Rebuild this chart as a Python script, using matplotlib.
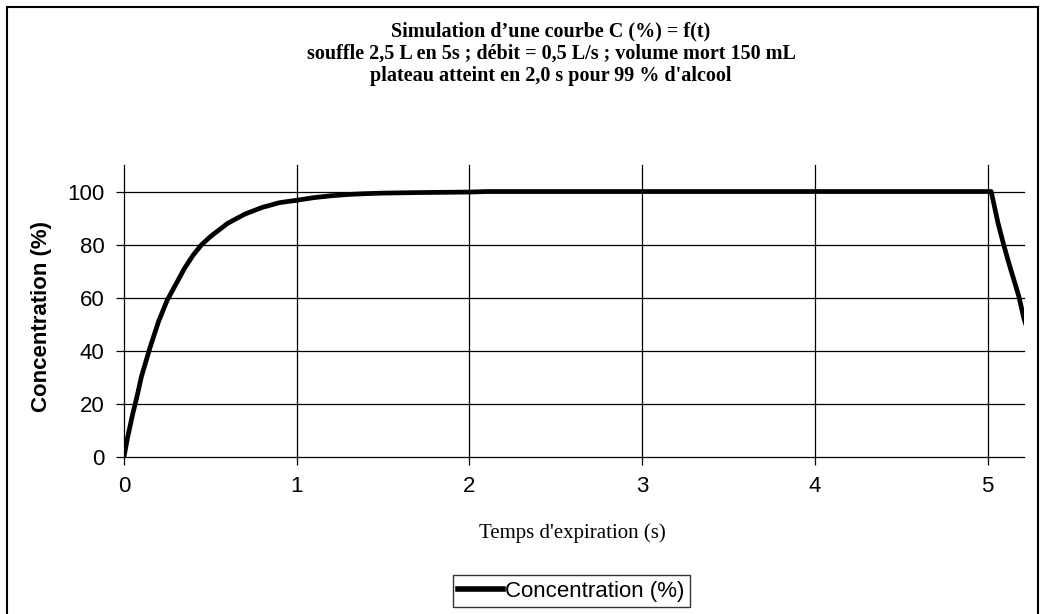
import matplotlib
matplotlib.use("Agg")
import matplotlib.pyplot as plt
from matplotlib.patches import Rectangle

# ---- data ----
t_s = [0.0, 0.02, 0.05, 0.08, 0.1, 0.15, 0.2, 0.25, 0.3, 0.35, 0.4, 0.45, 0.5,
       0.6, 0.7, 0.8, 0.9, 1.0, 1.1, 1.2, 1.3, 1.4, 1.5, 1.7, 2.0, 2.1, 2.5,
       3.0, 4.0, 5.0, 5.02, 5.04, 5.06, 5.09, 5.12, 5.15, 5.18, 5.21, 5.24]
conc_pct = [0.0, 7, 16, 24, 30, 41, 51, 59, 65, 71, 76, 80, 83,
            88, 91.5, 94, 95.8, 96.7, 97.7, 98.4, 98.9, 99.2, 99.4, 99.6, 99.8, 100, 100,
            100, 100, 100, 100, 94, 88, 80.5, 73.5, 67, 60.5, 52, 46]
x_ticks = [0, 1, 2, 3, 4, 5]
y_ticks = [0, 20, 40, 60, 80, 100]
series_label = "Concentration (%)"
title_lines = ["Simulation d\u2019une courbe C (%) = f(t)",
               "souffle 2,5 L en 5s ; d\u00e9bit = 0,5 L/s ; volume mort 150 mL",
               "plateau atteint en 2,0 s pour 99 % d'alcool"]
x_label = "Temps d'expiration (s)"
y_label = "Concentration (%)"

W, H = 1045, 614
fig = plt.figure(figsize=(W / 100, H / 100), dpi=100)

# figure border
fig.patches.append(Rectangle((7 / W, -0.05), (1038 - 7) / W, 1.05 - 6.5 / H,
                             transform=fig.transFigure, fill=False,
                             edgecolor="black", linewidth=1.5))

left, right = 124 / W, 1024 / W
top, bottom = 1 - 165 / H, 1 - 456.7 / H
ax = fig.add_axes([left, bottom, right - left, top - bottom])
ax.set_xlim(0, 5.21)
ax.set_ylim(0, 110)
for s in ax.spines.values():
    s.set_visible(False)

ax.set_xticks(x_ticks)
ax.set_yticks(y_ticks)
ax.grid(True, color="black", linewidth=0.9)
ax.set_axisbelow(True)
for gl in ax.get_xgridlines() + ax.get_ygridlines():
    gl.set_clip_on(False)
ax.tick_params(direction="out", length=6, width=0.9, color="black",
               labelsize=16, pad=8)
for lab in ax.get_xticklabels() + ax.get_yticklabels():
    lab.set_family("Liberation Sans")

ax.plot(t_s, conc_pct, color="black", linewidth=3.4, label=series_label,
        solid_joinstyle="round")

fig.text(42 / W, 1 - 317 / H, y_label, rotation=90, ha="center", va="center",
         fontsize=16, fontweight="bold", family="Liberation Sans")
fig.text(572 / W, 1 - 533 / H, x_label, ha="center", va="center",
         fontsize=15, family="Liberation Serif")

fig.text(551 / W, 1 - 54 / H, "\n".join(title_lines), ha="center", va="center",
         fontsize=14.5, fontweight="bold", family="Liberation Serif",
         linespacing=1.15)

leg = fig.legend(loc="center", bbox_to_anchor=(571.5 / W, 1 - 591 / H),
                 prop={"family": "Liberation Sans", "size": 16},
                 frameon=True, fancybox=False, shadow=False,
                 handlelength=2.0, handletextpad=0.1, borderpad=0.25,
                 borderaxespad=0)
leg.get_frame().set_edgecolor("black")
leg.get_frame().set_linewidth(1.0)
for ln in leg.get_lines():
    ln.set_linewidth(4)

fig.savefig("out.png", dpi=100)
